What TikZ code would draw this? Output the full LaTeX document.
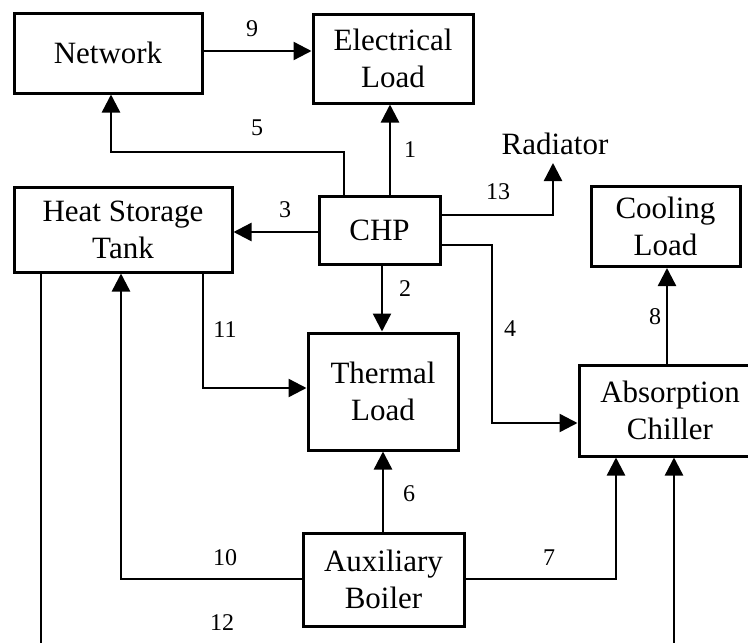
\documentclass[tikz,border=0pt]{standalone}
\usepackage{fontspec}
\setmainfont{Liberation Serif}
\usetikzlibrary{arrows.meta}
\begin{document}
\begin{tikzpicture}[x=1pt,y=-1pt,
  box/.style={draw,line width=3pt,align=center,inner sep=0pt,
    font=\fontsize{31}{37}\selectfont},
  lbl/.style={inner sep=0pt,font=\fontsize{24}{28}\selectfont},
  arr/.style={line width=2.4pt,-{Triangle[length=18pt,width=18pt]}},
  ln/.style={line width=2.4pt}]
\useasboundingbox (0,0) rectangle (748,643);
\clip (0,0) rectangle (748,643);
% boxes
\node[box,minimum width=188pt,minimum height=80pt] (net) at (108,53) {Network};
\node[box,minimum width=160pt,minimum height=89pt] (el) at (393,58.5) {Electrical\\Load};
\node[box,minimum width=218pt,minimum height=85pt] (hst) at (123,229.5) {Heat Storage\\Tank};
\node[box,minimum width=121pt,minimum height=68pt] (chp) at (379.5,230) {CHP};
\node[box,minimum width=149pt,minimum height=80pt] (cool) at (665.5,226.5) {Cooling\\Load};
\node[box,minimum width=150pt,minimum height=117pt] (th) at (383,391.5) {Thermal\\Load};
\node[box,minimum width=182pt,minimum height=91pt] (abs) at (670,410.5) {Absorption\\Chiller};
\node[box,minimum width=161pt,minimum height=93pt] (boil) at (383.5,579.5) {Auxiliary\\Boiler};
\node[inner sep=0pt,font=\fontsize{31}{37}\selectfont] (rad) at (555,144) {Radiator};
\coordinate (radtip) at (553,163);
\coordinate (bot) at (41,665);
% connectors
\draw[arr] (chp.north -| 390,0) -- (el.south -| 390,0);
\draw[arr] (chp.south -| 382,0) -- (th.north -| 382,0);
\draw[arr] (chp.west |- 0,232) -- (hst.east |- 0,232);
\draw[arr] (chp.east |- 0,245) -| (492,423) -- (abs.west |- 0,423);
\draw[arr] (chp.north -| 344,0) |- (111,152) -- (net.south -| 111,0);
\draw[arr] (boil.north -| 383,0) -- (th.south -| 383,0);
\draw[arr] (boil.east |- 0,579) -| (abs.south -| 616,0);
\draw[arr] (abs.north -| 667,0) -- (cool.south -| 667,0);
\draw[arr] (net.east |- 0,51) -- (el.west |- 0,51);
\draw[arr] (boil.west |- 0,579) -| (hst.south -| 121,0);
\draw[arr] (hst.south -| 203,0) |- (th.west |- 0,388);
\draw[arr] (hst.south -| bot) -- (bot) -| (abs.south -| 674,0);
\draw[arr] (chp.east |- 0,215) -| (radtip);
% labels
\node[lbl] (l1) at (410,150) {1};
\node[lbl] (l2) at (405,289) {2};
\node[lbl] (l3) at (285,210) {3};
\node[lbl] (l4) at (510,329) {4};
\node[lbl] (l5) at (257,128) {5};
\node[lbl] (l6) at (409,494) {6};
\node[lbl] (l7) at (549,558) {7};
\node[lbl] (l8) at (655,317) {8};
\node[lbl] (l9) at (252,29) {9};
\node[lbl] (l10) at (225,558) {10};
\node[lbl] (l11) at (225,330) {11};
\node[lbl] (l12) at (222,623) {12};
\node[lbl] (l13) at (498,192) {13};
\end{tikzpicture}
\end{document}
